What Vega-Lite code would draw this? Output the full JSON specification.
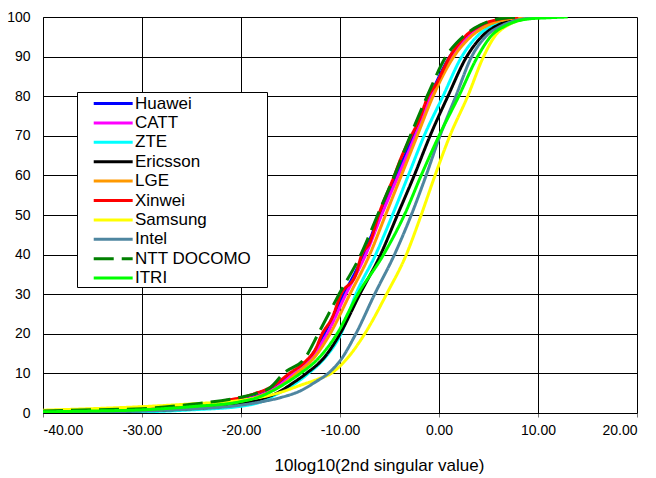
{
  "$schema": "https://vega.github.io/schema/vega-lite/v6.json",
  "width": 594,
  "height": 396,
  "autosize": {"type": "none"},
  "padding": {"left": 43, "top": 17, "right": 19, "bottom": 65},
  "background": "white",
  "config": {
    "view": {"stroke": null},
    "font": "Liberation Sans",
    "axis": {"labelFont": "Liberation Sans", "titleFont": "Liberation Sans", "labelColor": "#000", "titleColor": "#000", "titleFontWeight": "normal", "gridColor": "#000", "gridOpacity": 1, "gridWidth": 1, "domainColor": "#000", "tickColor": "#777"},
    "legend": {"labelFont": "Liberation Sans", "titleFont": "Liberation Sans"}
  },
  "data": {"values": [
    {"s":"Huawei","x":-40,"y":0.4},{"s":"Huawei","x":-35,"y":0.6},{"s":"Huawei","x":-30,"y":0.9},{"s":"Huawei","x":-25,"y":1.6},{"s":"Huawei","x":-20,"y":3.2},{"s":"Huawei","x":-18,"y":4.7},{"s":"Huawei","x":-16.5,"y":6.5},{"s":"Huawei","x":-14.9,"y":10},{"s":"Huawei","x":-13,"y":14},{"s":"Huawei","x":-11.6,"y":20},{"s":"Huawei","x":-9.6,"y":30},{"s":"Huawei","x":-7.6,"y":40},{"s":"Huawei","x":-6.0,"y":50},{"s":"Huawei","x":-4.3,"y":60},{"s":"Huawei","x":-2.6,"y":70},{"s":"Huawei","x":-0.9,"y":80},{"s":"Huawei","x":1.1,"y":90},{"s":"Huawei","x":2.8,"y":95},{"s":"Huawei","x":4.5,"y":98},{"s":"Huawei","x":6.5,"y":99.5},{"s":"Huawei","x":8.5,"y":100},
    {"s":"CATT","x":-40,"y":0.4},{"s":"CATT","x":-35,"y":0.6},{"s":"CATT","x":-30,"y":0.9},{"s":"CATT","x":-25,"y":1.6},{"s":"CATT","x":-20,"y":3.1},{"s":"CATT","x":-18,"y":4.5},{"s":"CATT","x":-16.4,"y":6.5},{"s":"CATT","x":-14.7,"y":10},{"s":"CATT","x":-12.9,"y":14},{"s":"CATT","x":-11.3,"y":20},{"s":"CATT","x":-9.4,"y":30},{"s":"CATT","x":-7.4,"y":40},{"s":"CATT","x":-5.8,"y":50},{"s":"CATT","x":-4.1,"y":60},{"s":"CATT","x":-2.4,"y":70},{"s":"CATT","x":-0.8,"y":80},{"s":"CATT","x":1.3,"y":90},{"s":"CATT","x":3.0,"y":95},{"s":"CATT","x":4.8,"y":98},{"s":"CATT","x":6.8,"y":99.5},{"s":"CATT","x":8.8,"y":100},
    {"s":"ZTE","x":-40,"y":0.1},{"s":"ZTE","x":-35,"y":0.2},{"s":"ZTE","x":-30,"y":0.3},{"s":"ZTE","x":-25,"y":0.8},{"s":"ZTE","x":-20,"y":1.7},{"s":"ZTE","x":-18,"y":2.8},{"s":"ZTE","x":-16.2,"y":5},{"s":"ZTE","x":-14.5,"y":7.5},{"s":"ZTE","x":-13.2,"y":10},{"s":"ZTE","x":-11.5,"y":14},{"s":"ZTE","x":-9.9,"y":20},{"s":"ZTE","x":-8.4,"y":30},{"s":"ZTE","x":-6.4,"y":40},{"s":"ZTE","x":-4.7,"y":50},{"s":"ZTE","x":-3.1,"y":60},{"s":"ZTE","x":-1.5,"y":70},{"s":"ZTE","x":0.4,"y":80},{"s":"ZTE","x":2.3,"y":90},{"s":"ZTE","x":3.8,"y":95},{"s":"ZTE","x":5.5,"y":98},{"s":"ZTE","x":7.5,"y":99.5},{"s":"ZTE","x":9.5,"y":100},
    {"s":"Ericsson","x":-40,"y":0.3},{"s":"Ericsson","x":-35,"y":0.4},{"s":"Ericsson","x":-30,"y":0.6},{"s":"Ericsson","x":-25,"y":1.1},{"s":"Ericsson","x":-20,"y":2.3},{"s":"Ericsson","x":-18,"y":3.5},{"s":"Ericsson","x":-16.4,"y":5},{"s":"Ericsson","x":-14.8,"y":7.5},{"s":"Ericsson","x":-13.4,"y":10},{"s":"Ericsson","x":-11.6,"y":14},{"s":"Ericsson","x":-10.0,"y":20},{"s":"Ericsson","x":-8.0,"y":30},{"s":"Ericsson","x":-5.9,"y":40},{"s":"Ericsson","x":-4.2,"y":50},{"s":"Ericsson","x":-2.5,"y":60},{"s":"Ericsson","x":-0.9,"y":70},{"s":"Ericsson","x":0.9,"y":80},{"s":"Ericsson","x":2.8,"y":90},{"s":"Ericsson","x":4.3,"y":95},{"s":"Ericsson","x":6.0,"y":98},{"s":"Ericsson","x":8,"y":99.5},{"s":"Ericsson","x":10,"y":100},
    {"s":"LGE","x":-40,"y":0.4},{"s":"LGE","x":-35,"y":0.6},{"s":"LGE","x":-30,"y":0.9},{"s":"LGE","x":-25,"y":1.6},{"s":"LGE","x":-20,"y":3.0},{"s":"LGE","x":-18,"y":4.4},{"s":"LGE","x":-16.2,"y":6.5},{"s":"LGE","x":-14.4,"y":10},{"s":"LGE","x":-12.6,"y":14},{"s":"LGE","x":-11.0,"y":20},{"s":"LGE","x":-9.0,"y":30},{"s":"LGE","x":-7.0,"y":40},{"s":"LGE","x":-5.4,"y":50},{"s":"LGE","x":-3.8,"y":60},{"s":"LGE","x":-2.2,"y":70},{"s":"LGE","x":-0.6,"y":80},{"s":"LGE","x":1.5,"y":90},{"s":"LGE","x":3.2,"y":95},{"s":"LGE","x":5.0,"y":98},{"s":"LGE","x":7,"y":99.5},{"s":"LGE","x":9,"y":100},
    {"s":"Xinwei","x":-37,"y":0.2},{"s":"Xinwei","x":-35,"y":0.4},{"s":"Xinwei","x":-30,"y":0.8},{"s":"Xinwei","x":-25,"y":1.8},{"s":"Xinwei","x":-21,"y":3.4},{"s":"Xinwei","x":-20,"y":3.9},{"s":"Xinwei","x":-18.5,"y":5},{"s":"Xinwei","x":-17,"y":6.5},{"s":"Xinwei","x":-15.1,"y":10},{"s":"Xinwei","x":-13.5,"y":13},{"s":"Xinwei","x":-12.5,"y":16},{"s":"Xinwei","x":-11.8,"y":20},{"s":"Xinwei","x":-10.8,"y":24},{"s":"Xinwei","x":-9.9,"y":30},{"s":"Xinwei","x":-8.4,"y":35},{"s":"Xinwei","x":-7.8,"y":40},{"s":"Xinwei","x":-7,"y":43},{"s":"Xinwei","x":-6.1,"y":50},{"s":"Xinwei","x":-4.5,"y":60},{"s":"Xinwei","x":-3.9,"y":64},{"s":"Xinwei","x":-2.8,"y":70},{"s":"Xinwei","x":-2.0,"y":74},{"s":"Xinwei","x":-1.1,"y":80},{"s":"Xinwei","x":-0.3,"y":83},{"s":"Xinwei","x":1.1,"y":90},{"s":"Xinwei","x":2.6,"y":95},{"s":"Xinwei","x":4.3,"y":98},{"s":"Xinwei","x":6.2,"y":99.5},{"s":"Xinwei","x":8,"y":100},
    {"s":"Samsung","x":-40,"y":0.7},{"s":"Samsung","x":-35,"y":1.1},{"s":"Samsung","x":-30,"y":1.6},{"s":"Samsung","x":-25,"y":2.3},{"s":"Samsung","x":-20,"y":3.2},{"s":"Samsung","x":-18,"y":4.0},{"s":"Samsung","x":-16.3,"y":5},{"s":"Samsung","x":-14,"y":7},{"s":"Samsung","x":-12.3,"y":8.5},{"s":"Samsung","x":-10.9,"y":10},{"s":"Samsung","x":-9.2,"y":14},{"s":"Samsung","x":-7.5,"y":20},{"s":"Samsung","x":-5.3,"y":30},{"s":"Samsung","x":-3.3,"y":40},{"s":"Samsung","x":-1.8,"y":50},{"s":"Samsung","x":-0.4,"y":60},{"s":"Samsung","x":1.1,"y":70},{"s":"Samsung","x":2.9,"y":80},{"s":"Samsung","x":4.5,"y":90},{"s":"Samsung","x":5.6,"y":95},{"s":"Samsung","x":7.0,"y":98},{"s":"Samsung","x":8.7,"y":99.5},{"s":"Samsung","x":10.5,"y":100},
    {"s":"Intel","x":-40,"y":0.2},{"s":"Intel","x":-35,"y":0.3},{"s":"Intel","x":-30,"y":0.5},{"s":"Intel","x":-25,"y":1.0},{"s":"Intel","x":-20,"y":2.0},{"s":"Intel","x":-18,"y":2.8},{"s":"Intel","x":-16,"y":3.9},{"s":"Intel","x":-14,"y":5.6},{"s":"Intel","x":-12.5,"y":7.8},{"s":"Intel","x":-11.2,"y":10},{"s":"Intel","x":-9.9,"y":13.5},{"s":"Intel","x":-8.4,"y":20},{"s":"Intel","x":-6.5,"y":30},{"s":"Intel","x":-4.5,"y":40},{"s":"Intel","x":-2.8,"y":50},{"s":"Intel","x":-1.3,"y":60},{"s":"Intel","x":0.1,"y":70},{"s":"Intel","x":1.7,"y":80},{"s":"Intel","x":3.3,"y":90},{"s":"Intel","x":4.7,"y":95},{"s":"Intel","x":6.5,"y":98},{"s":"Intel","x":8.5,"y":99.5},{"s":"Intel","x":10.5,"y":100},
    {"s":"NTT DOCOMO","x":-40,"y":0.5},{"s":"NTT DOCOMO","x":-35,"y":0.8},{"s":"NTT DOCOMO","x":-30,"y":1.1},{"s":"NTT DOCOMO","x":-25,"y":2.2},{"s":"NTT DOCOMO","x":-20,"y":4.0},{"s":"NTT DOCOMO","x":-18.4,"y":5},{"s":"NTT DOCOMO","x":-17,"y":6.5},{"s":"NTT DOCOMO","x":-15.7,"y":10},{"s":"NTT DOCOMO","x":-13.5,"y":14},{"s":"NTT DOCOMO","x":-12.2,"y":20},{"s":"NTT DOCOMO","x":-10.1,"y":30},{"s":"NTT DOCOMO","x":-7.9,"y":40},{"s":"NTT DOCOMO","x":-6.2,"y":50},{"s":"NTT DOCOMO","x":-4.5,"y":60},{"s":"NTT DOCOMO","x":-2.9,"y":70},{"s":"NTT DOCOMO","x":-1.2,"y":80},{"s":"NTT DOCOMO","x":0.7,"y":90},{"s":"NTT DOCOMO","x":2.4,"y":95},{"s":"NTT DOCOMO","x":4.2,"y":98},{"s":"NTT DOCOMO","x":6,"y":99.5},{"s":"NTT DOCOMO","x":8,"y":100},
    {"s":"ITRI","x":-40,"y":0.3},{"s":"ITRI","x":-35,"y":0.5},{"s":"ITRI","x":-30,"y":0.8},{"s":"ITRI","x":-25,"y":1.6},{"s":"ITRI","x":-20,"y":2.9},{"s":"ITRI","x":-18,"y":4.2},{"s":"ITRI","x":-17.3,"y":5},{"s":"ITRI","x":-15.5,"y":7.5},{"s":"ITRI","x":-14.0,"y":10},{"s":"ITRI","x":-12.1,"y":14},{"s":"ITRI","x":-10.3,"y":20},{"s":"ITRI","x":-8.2,"y":30},{"s":"ITRI","x":-5.6,"y":40},{"s":"ITRI","x":-3.5,"y":50},{"s":"ITRI","x":-1.8,"y":60},{"s":"ITRI","x":0.0,"y":70},{"s":"ITRI","x":2.0,"y":80},{"s":"ITRI","x":3.9,"y":90},{"s":"ITRI","x":5.2,"y":95},{"s":"ITRI","x":6.9,"y":98},{"s":"ITRI","x":9,"y":99.5},{"s":"ITRI","x":11,"y":99.8},{"s":"ITRI","x":13,"y":100}
  ]},
  "mark": {"type": "line", "strokeWidth": 3, "clip": true, "interpolate": "monotone"},
  "encoding": {
    "x": {"field": "x", "type": "quantitative", "scale": {"domain": [-40, 20], "nice": false}, "axis": {"values": [-40, -30, -20, -10, 0, 10, 20], "labelExpr": "replace(format(datum.value, '.2f'), '\u2212', '-')", "title": "10log10(2nd singular value)", "labelFontSize": 14, "titleFontSize": 17, "tickSize": 4, "labelPadding": 6, "titleX": 336, "titleY": 52, "titleBaseline": "middle", "titleAlign": "center"}},
    "y": {"field": "y", "type": "quantitative", "scale": {"domain": [0, 100], "nice": false}, "axis": {"values": [0, 10, 20, 30, 40, 50, 60, 70, 80, 90, 100], "title": null, "labelFontSize": 14, "tickSize": 0, "labelPadding": 13}},
    "color": {"field": "s", "type": "nominal", "scale": {"domain": ["Huawei", "CATT", "ZTE", "Ericsson", "LGE", "Xinwei", "Samsung", "Intel", "NTT DOCOMO", "ITRI"], "range": ["#0000FF", "#FF00FF", "#00FFFF", "#000000", "#FF9900", "#FF0000", "#FFFF00", "#4E86A0", "#008000", "#00FF00"]}, "legend": {"title": "\u2002", "titleOrient": "right", "titlePadding": 15, "titleFontSize": 17, "orient": "none", "legendX": 34, "legendY": 75, "fillColor": "white", "strokeColor": "black", "padding": 0.5, "labelFontSize": 17, "labelColor": "#000", "symbolType": "M0.55,0H4.65", "symbolSize": 361, "symbolStrokeWidth": 3, "labelOffset": 35.5, "rowPadding": 0.4, "cornerRadius": 0}},
    "strokeDash": {"field": "s", "type": "nominal", "scale": {"domain": ["Huawei", "CATT", "ZTE", "Ericsson", "LGE", "Xinwei", "Samsung", "Intel", "NTT DOCOMO", "ITRI"], "range": [[1, 0], [1, 0], [1, 0], [1, 0], [1, 0], [1, 0], [1, 0], [1, 0], [20, 8], [1, 0]]}, "legend": null}
  }
}
